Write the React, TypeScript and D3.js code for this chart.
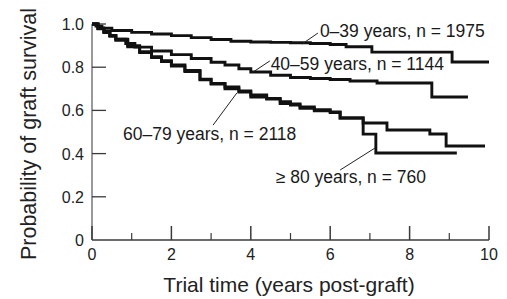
import { useEffect, useRef } from "react";
import * as d3 from "d3";

type Pt = [number, number];

// Kaplan-Meier curves: [years, survival]
const age0to39: Pt[] = [
  [0, 1], [0.1, 0.99], [0.25, 0.98], [0.5, 0.97], [1.0, 0.961], [1.5, 0.954],
  [2.0, 0.946], [2.5, 0.937], [3.0, 0.928], [3.5, 0.92], [4.0, 0.917],
  [4.5, 0.915], [5.0, 0.913], [5.5, 0.91], [6.0, 0.905], [6.4, 0.895],
  [7.05, 0.87], [9.07, 0.824], [10.0, 0.824],
];

const age40to59: Pt[] = [
  [0, 1], [0.15, 0.98], [0.3, 0.965], [0.45, 0.947], [0.6, 0.93], [0.85, 0.91],
  [1.08, 0.893], [1.5, 0.875], [2.0, 0.858], [2.5, 0.84], [3.0, 0.823],
  [3.35, 0.81], [3.7, 0.793], [4.0, 0.778], [4.5, 0.763], [5.0, 0.752],
  [5.5, 0.748], [6.0, 0.743], [6.5, 0.736], [7.18, 0.727], [8.56, 0.662],
  [9.47, 0.662],
];

const age60to79: Pt[] = [
  [0, 1], [0.15, 0.98], [0.3, 0.963], [0.45, 0.946], [0.6, 0.93], [0.9, 0.9],
  [1.2, 0.872], [1.5, 0.849], [1.75, 0.83], [2.0, 0.81], [2.34, 0.785],
  [2.72, 0.742], [3.0, 0.725], [3.35, 0.708], [3.7, 0.69], [4.0, 0.671],
  [4.4, 0.655], [4.74, 0.64], [5.0, 0.63], [5.24, 0.616], [5.6, 0.603],
  [6.0, 0.593], [6.25, 0.565], [6.83, 0.542], [7.43, 0.509], [8.51, 0.491],
  [8.92, 0.435], [9.9, 0.435],
];

const age80plus: Pt[] = [
  [0, 1], [0.15, 0.978], [0.3, 0.96], [0.45, 0.943], [0.6, 0.925], [0.9, 0.895],
  [1.2, 0.868], [1.5, 0.845], [1.75, 0.826], [2.0, 0.805], [2.34, 0.78],
  [2.72, 0.745], [3.0, 0.722], [3.35, 0.7], [3.7, 0.685], [4.0, 0.662],
  [4.4, 0.652], [4.74, 0.632], [5.0, 0.625], [5.24, 0.61], [5.6, 0.598],
  [6.0, 0.59], [6.25, 0.565], [6.83, 0.49], [7.15, 0.403], [9.19, 0.403],
];

const series = [age0to39, age40to59, age60to79, age80plus];

// label text, leader line from/to and text anchor, all in data units
const labels: { text: string; from: Pt; to: Pt; at: Pt }[] = [
  { text: "0–39 years, n = 1975", from: [5.29, 0.907], to: [5.69, 0.958], at: [5.74, 0.94] },
  { text: "40–59 years, n = 1144", from: [4.06, 0.778], to: [4.48, 0.829], at: [4.5, 0.788] },
  { text: "60–79 years, n = 2118", from: [3.05, 0.532], to: [3.65, 0.681], at: [0.78, 0.463] },
  { text: "≥ 80 years, n = 760", from: [6.25, 0.324], to: [7.13, 0.426], at: [4.63, 0.264] },
];

const xMajor = [0, 2, 4, 6, 8, 10];
const xMinor = [1, 3, 5, 7, 9];
const yTicks = [0, 0.2, 0.4, 0.6, 0.8, 1.0];
const yTickLabels = ["0", "0.2", "0.4", "0.6", "0.8", "1.0"];

const font = "'Liberation Sans', Arial, Helvetica, sans-serif";

export default function App() {
  const ref = useRef<SVGSVGElement>(null);

  useEffect(() => {
    if (!ref.current) return;
    const width = 507;
    const height = 299;

    const svg = d3.select(ref.current);
    svg.selectAll("*").remove();
    svg.attr("width", width).attr("height", height);

    svg.append("rect").attr("width", width).attr("height", height).attr("fill", "#fff");

    const x = d3.scaleLinear().domain([0, 10]).range([92, 489]);
    const y = d3.scaleLinear().domain([0, 1]).range([240, 24]);

    const axisColor = "#3a3a3a";

    // axes lines
    svg
      .append("line")
      .attr("x1", x(0))
      .attr("x2", x(10))
      .attr("y1", y(0))
      .attr("y2", y(0))
      .attr("stroke", axisColor)
      .attr("stroke-width", 1.5);
    svg
      .append("line")
      .attr("x1", x(0))
      .attr("x2", x(0))
      .attr("y1", y(0))
      .attr("y2", y(1))
      .attr("stroke", "#777")
      .attr("stroke-width", 1.5);

    // x ticks point up into the plot
    svg
      .selectAll(".xmaj")
      .data(xMajor)
      .join("line")
      .attr("x1", (d) => x(d))
      .attr("x2", (d) => x(d))
      .attr("y1", y(0))
      .attr("y2", y(0) - 14)
      .attr("stroke", axisColor)
      .attr("stroke-width", 1.5);
    svg
      .selectAll(".xmin")
      .data(xMinor)
      .join("line")
      .attr("x1", (d) => x(d))
      .attr("x2", (d) => x(d))
      .attr("y1", y(0))
      .attr("y2", y(0) - 7)
      .attr("stroke", axisColor)
      .attr("stroke-width", 1.2);

    svg
      .selectAll(".xlab")
      .data(xMajor)
      .join("text")
      .attr("x", (d) => x(d))
      .attr("y", 260)
      .attr("text-anchor", "middle")
      .attr("font-family", font)
      .attr("font-size", 16)
      .attr("fill", "#222")
      .text((d) => String(d));

    // y ticks point right into the plot
    svg
      .selectAll(".ytick")
      .data(yTicks.slice(1))
      .join("line")
      .attr("x1", x(0))
      .attr("x2", x(0) + 14)
      .attr("y1", (d) => y(d))
      .attr("y2", (d) => y(d))
      .attr("stroke", axisColor)
      .attr("stroke-width", 1.3);

    svg
      .selectAll(".ylab")
      .data(yTicks)
      .join("text")
      .attr("x", 84)
      .attr("y", (d) => y(d) + 6)
      .attr("text-anchor", "end")
      .attr("font-family", font)
      .attr("font-size", 16)
      .attr("fill", "#222")
      .text((_d, i) => yTickLabels[i]);

    // titles
    svg
      .append("text")
      .attr("x", 289)
      .attr("y", 292)
      .attr("text-anchor", "middle")
      .attr("font-family", font)
      .attr("font-size", 21)
      .attr("fill", "#222")
      .text("Trial time (years post-graft)");

    svg
      .append("text")
      .attr("transform", "translate(36,134) rotate(-90)")
      .attr("text-anchor", "middle")
      .attr("font-family", font)
      .attr("font-size", 21.5)
      .attr("fill", "#222")
      .text("Probability of graft survival");

    // survival curves
    const line = d3
      .line<Pt>()
      .x((d) => x(d[0]))
      .y((d) => y(d[1]))
      .curve(d3.curveStepAfter);

    svg
      .selectAll(".km")
      .data(series)
      .join("path")
      .attr("d", (d) => line(d))
      .attr("fill", "none")
      .attr("stroke", "#111")
      .attr("stroke-width", 2.9)
      .attr("stroke-linejoin", "miter");

    // labels and leader lines
    svg
      .selectAll(".leader")
      .data(labels)
      .join("line")
      .attr("x1", (d) => x(d.from[0]))
      .attr("y1", (d) => y(d.from[1]))
      .attr("x2", (d) => x(d.to[0]))
      .attr("y2", (d) => y(d.to[1]))
      .attr("stroke", "#222")
      .attr("stroke-width", 1);

    svg
      .selectAll(".lab")
      .data(labels)
      .join("text")
      .attr("x", (d) => x(d.at[0]))
      .attr("y", (d) => y(d.at[1]))
      .attr("font-family", font)
      .attr("font-size", 17.5)
      .attr("fill", "#1a1a1a")
      .text((d) => d.text);
  }, []);

  return (
    <svg
      ref={ref}
      style={{ position: "absolute", left: 0, top: 0, display: "block" }}
    />
  );
}
